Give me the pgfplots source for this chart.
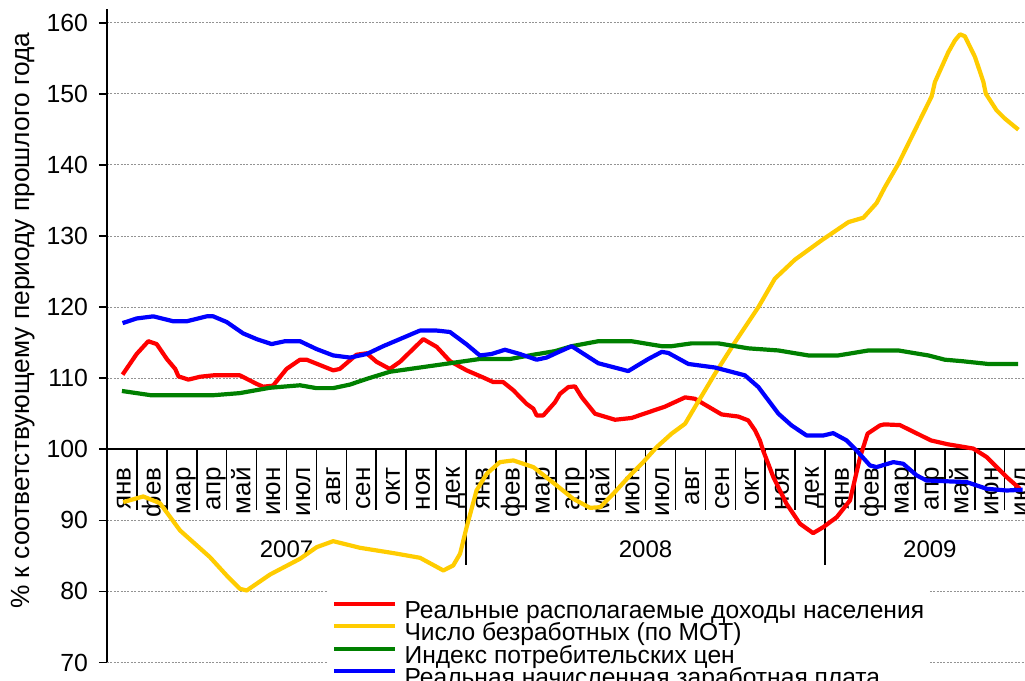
\documentclass[border=0pt]{standalone}
\usepackage{fontspec}
\setmainfont{Liberation Sans}
\usepackage{pgfplots}
\pgfplotsset{compat=1.18}
\definecolor{cred}{RGB}{255,0,0}
\definecolor{cyel}{RGB}{255,204,0}
\definecolor{cgrn}{RGB}{0,128,0}
\definecolor{cblu}{RGB}{0,0,255}
\begin{document}
\begin{tikzpicture}[
  mlab/.style={rotate=90, anchor=base east, inner sep=0pt, font=\fontsize{13}{13}\selectfont},
  ylab/.style={anchor=base, inner sep=0pt, font=\fontsize{12}{12}\selectfont},
  sep/.style={black, line width=0.8pt}]
\begin{axis}[
  scale only axis, width=459pt, height=326.6pt,
  xmin=-0.5, xmax=30.18, ymin=70, ymax=161.9,
  axis x line=none, axis y line*=left,
  y axis line style={line width=1pt},
  xtick=\empty,
  ytick={70,80,...,160},
  tick align=outside, major tick length=4pt,
  ytick style={black, line width=0.8pt},
  /pgf/number format/assume math mode=true,
  yticklabel={\pgfmathprintnumber{\tick}},
  yticklabel style={font=\fontsize{12.4}{12.4}\selectfont, xshift=-2pt},
  ymajorgrids,
  major grid style={gray!85, line width=0.5pt, dash pattern=on 1pt off 0.7pt},
  ylabel={\% к соответствующему периоду прошлого года},
  every axis y label/.style={at={(rel axis cs:-0.0839,0.523)}, rotate=90, anchor=base, font=\fontsize{13.15}{13.15}\selectfont},
  legend style={at={(rel axis cs:0.2407,0.111)}, anchor=north west, draw=none, fill=white,
    inner xsep=2pt, inner ysep=4pt, font=\fontsize{12.3}{12.3}\selectfont,
    nodes={inner sep=0pt, text height=10pt, text depth=2pt}, column sep=3.5pt, row sep=-0.75pt},
  legend cell align=left,
  legend image code/.code={\draw[#1, line width=2.1pt] (0pt,3.35pt) -- (30.5pt,3.35pt);},
  every axis plot/.append style={line width=2.1pt, line join=round},
]
\coordinate (O) at (rel axis cs:0,0);
% x axis at 100 and category separators
\draw[black, line width=1pt] (axis cs:-0.5,100) -- (axis cs:30.18,100);
\pgfplotsinvokeforeach{0.5,1.5,2.5,3.5,4.5,5.5,6.5,7.5,8.5,9.5,10.5,12.5,13.5,14.5,15.5,16.5,17.5,18.5,19.5,20.5,21.5,22.5,24.5,25.5,26.5,27.5,28.5,29.5}{
  \draw[sep] (axis cs:#1,100) -- (axis cs:#1,91.4);}
\draw[sep] (axis cs:-0.5,100) -- (axis cs:-0.5,83.65);
\draw[sep] (axis cs:11.5,100) -- (axis cs:11.5,83.65);
\draw[sep] (axis cs:23.5,100) -- (axis cs:23.5,83.65);
\node[mlab] at (axis cs:0.29,97.5) {янв};
\node[mlab] at (axis cs:1.29,97.5) {фев};
\node[mlab] at (axis cs:2.29,97.5) {мар};
\node[mlab] at (axis cs:3.29,97.5) {апр};
\node[mlab] at (axis cs:4.29,97.5) {май};
\node[mlab] at (axis cs:5.29,97.5) {июн};
\node[mlab] at (axis cs:6.29,97.5) {июл};
\node[mlab] at (axis cs:7.29,97.5) {авг};
\node[mlab] at (axis cs:8.29,97.5) {сен};
\node[mlab] at (axis cs:9.29,97.5) {окт};
\node[mlab] at (axis cs:10.29,97.5) {ноя};
\node[mlab] at (axis cs:11.29,97.5) {дек};
\node[mlab] at (axis cs:12.29,97.5) {янв};
\node[mlab] at (axis cs:13.29,97.5) {фев};
\node[mlab] at (axis cs:14.29,97.5) {мар};
\node[mlab] at (axis cs:15.29,97.5) {апр};
\node[mlab] at (axis cs:16.29,97.5) {май};
\node[mlab] at (axis cs:17.29,97.5) {июн};
\node[mlab] at (axis cs:18.29,97.5) {июл};
\node[mlab] at (axis cs:19.29,97.5) {авг};
\node[mlab] at (axis cs:20.29,97.5) {сен};
\node[mlab] at (axis cs:21.29,97.5) {окт};
\node[mlab] at (axis cs:22.29,97.5) {ноя};
\node[mlab] at (axis cs:23.29,97.5) {дек};
\node[mlab] at (axis cs:24.29,97.5) {янв};
\node[mlab] at (axis cs:25.29,97.5) {фев};
\node[mlab] at (axis cs:26.29,97.5) {мар};
\node[mlab] at (axis cs:27.29,97.5) {апр};
\node[mlab] at (axis cs:28.29,97.5) {май};
\node[mlab] at (axis cs:29.29,97.5) {июн};
\node[mlab] at (axis cs:30.29,97.5) {июл};
\node[ylab] at (axis cs:5.5,84.8) {2007};
\node[ylab] at (axis cs:17.5,84.8) {2008};
\node[ylab] at (axis cs:27,84.8) {2009};

\addplot[cred] coordinates {
(0.02,110.5) (0.49,113.4) (0.88,115.2) (1.16,114.8) (1.5,112.7) (1.78,111.3) (1.89,110.25)
(2.22,109.8) (2.61,110.2) (3.05,110.4) (3.94,110.4) (4.5,109.2) (4.72,108.8) (5.05,108.95)
(5.5,111.3) (5.95,112.6) (6.17,112.6) (7.06,111.1) (7.28,111.3) (7.84,113.3) (8.18,113.5)
(8.51,112.3) (8.95,111.3) (9.29,112.3) (10.07,115.5) (10.52,114.4) (10.96,112.4) (11.52,111.1)
(12.07,110.1) (12.41,109.45) (12.74,109.45) (13.08,108.3) (13.52,106.4) (13.75,105.7)
(13.86,104.76) (14.08,104.76) (14.47,106.6) (14.64,107.8) (14.92,108.75) (15.14,108.85)
(15.37,107.3) (15.81,105.0) (16.48,104.15) (17.03,104.4) (18.15,106.0) (18.82,107.3)
(19.15,107.1) (20.04,104.9) (20.6,104.6) (20.93,104.06) (21.16,102.65) (21.32,101.24)
(21.43,99.8) (21.77,96.08) (22.21,92.33) (22.66,89.52) (23.1,88.2) (23.44,89.05) (23.89,90.45)
(24.33,92.8) (24.67,98.9) (24.92,102.2) (25.33,103.35) (25.48,103.5) (26.0,103.4) (26.48,102.4)
(27.04,101.24) (27.6,100.7) (28.45,100.1) (28.9,98.9) (29.57,96.08) (30.01,94.44)
};
\addlegendentry{Реальные располагаемые доходы населения}
\addplot[cyel] coordinates {
(0.04,92.56) (0.71,93.36) (1.27,92.42) (1.94,88.58) (2.94,84.82) (3.5,82.24) (3.94,80.37)
(4.17,80.13) (4.95,82.38) (5.95,84.59) (6.51,86.23) (7.06,87.07) (7.95,86.14) (9.07,85.39)
(9.96,84.73) (10.74,82.95) (11.07,83.65) (11.3,85.3) (11.52,89.05) (11.85,94.2) (12.19,96.55)
(12.63,98.19) (13.08,98.43) (13.75,97.49) (14.53,94.9) (15.08,93.03) (15.64,91.76) (15.98,91.85)
(16.42,93.73) (16.98,96.32) (17.42,98.19) (17.87,100.3) (18.37,102.2) (18.82,103.59)
(19.15,105.94) (19.82,110.63) (20.49,115.08) (21.27,120.0) (21.82,124.0) (22.49,126.67)
(23.38,129.39) (24.28,131.96) (24.78,132.58) (25.22,134.64) (25.5,136.89) (25.95,140.17)
(26.5,144.87) (27.06,149.65) (27.17,151.67) (27.62,155.89) (27.84,157.53) (28.01,158.38)
(28.17,158.1) (28.51,155.18) (28.79,151.67) (28.87,150.03) (29.23,147.68) (29.51,146.51)
(29.96,144.96)
};
\addlegendentry{Число безработных (по МОТ)}
\addplot[cgrn] coordinates {
(0,108.2) (0.97,107.6) (3.05,107.6) (3.94,107.9) (4.94,108.65) (5.95,109.0) (6.5,108.6)
(7.06,108.6) (7.62,109.1) (8.18,109.9) (8.95,110.9) (9.96,111.5) (10.96,112.1) (11.96,112.7)
(12.97,112.7) (13.75,113.3) (14.47,113.8) (15.03,114.5) (15.92,115.2) (17.03,115.2)
(18.04,114.5) (18.37,114.5) (19.04,114.9) (19.93,114.9) (20.93,114.2) (21.94,113.9)
(22.94,113.2) (23.94,113.2) (24.95,113.9) (25.95,113.9) (26.95,113.2) (27.5,112.6)
(28.06,112.4) (28.95,112.0) (29.95,112.0)
};
\addlegendentry{Индекс потребительских цен}
\addplot[cblu] coordinates {
(0.02,117.75) (0.49,118.4) (1.05,118.7) (1.72,118.0) (2.16,118.0) (2.83,118.7) (3.05,118.7)
(3.5,117.9) (4.05,116.3) (4.5,115.5) (5.0,114.8) (5.45,115.2) (5.95,115.2) (6.5,114.1)
(7.06,113.2) (7.62,112.9) (8.18,113.4) (8.73,114.5) (9.29,115.5) (9.96,116.7) (10.52,116.7)
(10.96,116.5) (11.52,114.75) (11.96,113.2) (12.35,113.4) (12.8,114.0) (13.3,113.4)
(13.86,112.6) (14.19,112.9) (14.55,113.6) (15.03,114.5) (15.92,112.1) (16.92,111.0)
(17.59,112.7) (18.04,113.7) (18.26,113.55) (18.93,112.0) (19.82,111.5) (20.82,110.4)
(21.27,108.75) (21.94,105.0) (22.38,103.35) (22.88,101.94) (23.44,101.94) (23.77,102.27)
(24.22,101.24) (24.55,99.83) (25.0,97.72) (25.22,97.49) (25.78,98.19) (26.11,97.96)
(26.56,96.32) (26.89,95.61) (28.23,95.38) (28.9,94.44) (29.57,94.2) (30.1,94.3)
};
\addlegendentry{Реальная начисленная заработная плата}
\end{axis}
\pgfresetboundingbox
\path ([shift={(-53.5pt,-9.25pt)}]O) rectangle ++(512.5pt,340.5pt);
\end{tikzpicture}
\end{document}
